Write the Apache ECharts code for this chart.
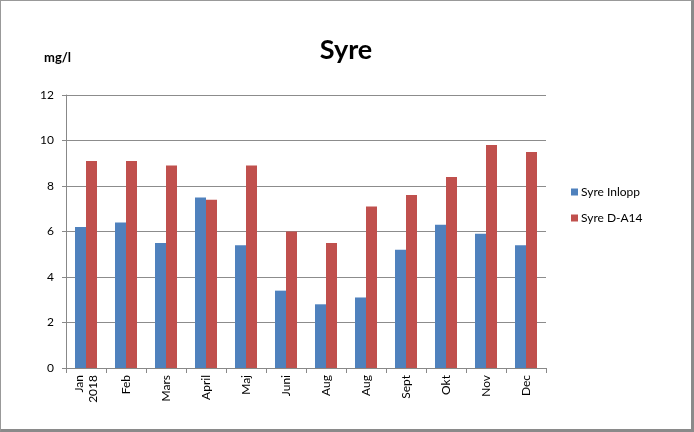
<!DOCTYPE html>
<html>
<head>
<meta charset="utf-8">
<script src="https://cdn.jsdelivr.net/npm/echarts@6/dist/echarts.min.js"></script>
<style>
html,body{margin:0;padding:0;background:#fff;}
#frame{position:absolute;left:0;top:0;width:690px;height:428px;border:1px solid #999;border-right:3px solid #8a8a8a;border-bottom:3px solid #8a8a8a;}
#chart{width:690px;height:428px;}
</style>
</head>
<body>
<div id="frame"><div id="chart"></div></div>
<script>
const categories = ['Jan\n2018','Feb','Mars','April','Maj','Juni','Aug','Aug','Sept','Okt','Nov','Dec'];
const inlopp = [6.2,6.4,5.5,7.5,5.4,3.4,2.8,3.1,5.2,6.3,5.9,5.4];
const da14 = [9.1,9.1,8.9,7.4,8.9,6.0,5.5,7.1,7.6,8.4,9.8,9.5];
const yTicks = [0,2,4,6,8,10,12];

const chart = echarts.init(document.getElementById('chart'));
const font = 'Lato, "Open Sans", sans-serif';
chart.setOption({
  animation:false,
  textStyle:{fontFamily:font},
  title:[
    {text:'Syre',left:'center',top:31,textStyle:{fontSize:27,fontWeight:'bold',color:'#000',fontFamily:font}},
    {text:'mg/l',left:38,top:45,textStyle:{fontSize:13,fontWeight:'bold',color:'#000',fontFamily:font}}
  ],
  legend:{
    orient:'vertical',left:565,top:180,itemWidth:7,itemHeight:7,itemGap:14,
    icon:'rect',
    textStyle:{fontSize:12,color:'#000',fontFamily:font,padding:[0,0,0,-2]},
    data:['Syre Inlopp','Syre D-A14']
  },
  grid:{left:65,top:94,width:480,height:273,containLabel:false},
  xAxis:{
    type:'category',data:categories,
    axisLine:{lineStyle:{color:'#888'}},
    axisTick:{show:true,length:5,lineStyle:{color:'#888'}},
    axisLabel:{rotate:90,fontSize:12,color:'#000',margin:7,lineHeight:14,fontFamily:font}
  },
  yAxis:{
    type:'value',min:0,max:12,interval:2,
    axisLine:{show:true,lineStyle:{color:'#888'}},
    axisTick:{show:true,length:4,lineStyle:{color:'#888'}},
    splitLine:{lineStyle:{color:'#8c8c8c'}},
    axisLabel:{fontSize:12,color:'#000',margin:12,fontFamily:font,
      formatter:v=>yTicks.includes(v)?String(v):''}
  },
  series:[
    {name:'Syre Inlopp',type:'bar',data:inlopp,barWidth:11,barGap:'0%',itemStyle:{color:'#4F81BD'}},
    {name:'Syre D-A14',type:'bar',data:da14,barWidth:11,barGap:'0%',itemStyle:{color:'#C0504D'}}
  ]
});
</script>
</body>
</html>
